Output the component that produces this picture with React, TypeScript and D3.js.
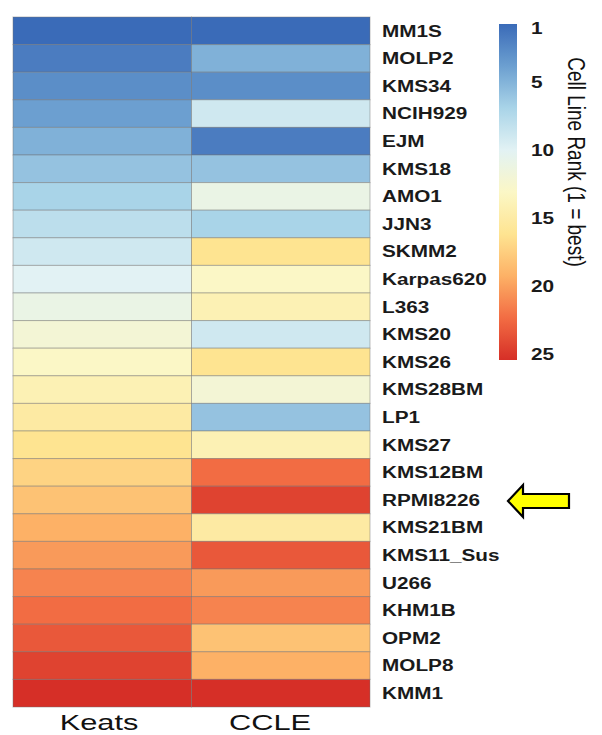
import React from "react";
import * as d3 from "d3";

const cellLines = [
  "MM1S", "MOLP2", "KMS34", "NCIH929", "EJM", "KMS18", "AMO1", "JJN3",
  "SKMM2", "Karpas620", "L363", "KMS20", "KMS26", "KMS28BM", "LP1", "KMS27",
  "KMS12BM", "RPMI8226", "KMS21BM", "KMS11_Sus", "U266", "KHM1B", "OPM2",
  "MOLP8", "KMM1",
];
const keatsRank = [1, 2, 3, 4, 5, 6, 7, 8, 9, 10, 11, 12, 13, 14, 15, 16, 17, 18, 19, 20, 21, 22, 23, 24, 25];
const ccleRank = [1, 5, 3, 9, 2, 6, 11, 7, 16, 13, 14, 9, 16, 12, 6, 14, 22, 24, 15, 23, 20, 21, 18, 19, 25];
const columns = ["Keats", "CCLE"];
const legendTicks = [1, 5, 10, 15, 20, 25];
const paletteStops = ["#3a6bb8", "#6c9fd0", "#a9d4e8", "#e2f2f4", "#fbf7c6", "#fee491", "#fdb166", "#f26c43", "#d62f27"];

const width = 602, height = 735;
const hm = { left: 13, right: 370, top: 17, bottom: 707 };
const bar = { x: 499, w: 18, top: 24, bottom: 360 };

export default function App() {
  const color = d3.scaleLinear<string>()
    .domain(d3.range(paletteStops.length).map(i => 1 + (i * 24) / (paletteStops.length - 1)))
    .range(paletteStops)
    .interpolate(d3.interpolateRgb);

  const x = d3.scaleBand().domain(columns).range([hm.left, hm.right]);
  const y = d3.scaleBand().domain(cellLines).range([hm.top, hm.bottom]);
  const legendY = d3.scaleLinear().domain([1, 25]).range([bar.top + 4, bar.bottom - 6]);

  const series = [keatsRank, ccleRank];
  const gradStops = d3.range(0, 25);

  // yellow marker arrow beside RPMI8226
  const ay = 501;
  const arrowPts = [[508, ay], [523, ay - 16], [523, ay - 7], [569, ay - 7], [569, ay + 7], [523, ay + 7], [523, ay + 16]];

  return (
    <svg width={width} height={height} style={{ position: "absolute", left: 0, top: 0, background: "#fff" }}
      fontFamily="'Liberation Sans', Arial, sans-serif">
      <defs>
        <linearGradient id="rankGrad" x1="0" y1="0" x2="0" y2="1">
          {gradStops.map(i => (
            <stop key={i} offset={`${(i / 24) * 100}%`} stopColor={color(1 + i)} />
          ))}
        </linearGradient>
      </defs>

      {series.map((vals, ci) =>
        cellLines.map((name, ri) => (
          <rect key={columns[ci] + name}
            x={x(columns[ci])!} y={y(name)!}
            width={x.bandwidth()} height={y.bandwidth()}
            fill={color(vals[ri])}
            stroke="rgba(110,110,110,0.45)" strokeWidth={1} />
        ))
      )}

      {cellLines.map(name => (
        <text key={name} transform={`translate(382,${y(name)! + y.bandwidth() / 2}) scale(1.22,1)`}
          dominantBaseline="central" fontSize={17} fontWeight="bold" fill="#1a1a1a">{name}</text>
      ))}

      {columns.map(c => (
        <text key={c} transform={`translate(${c === "Keats" ? 99 : 270},730) scale(1.4,1)`}
          textAnchor="middle" fontSize={22} fill="#111">{c}</text>
      ))}

      <rect x={bar.x} y={bar.top} width={bar.w} height={bar.bottom - bar.top} fill="url(#rankGrad)" />
      {legendTicks.map(t => (
        <text key={t} transform={`translate(531,${legendY(t)}) scale(1.3,1)`}
          dominantBaseline="central" fontSize={16} fontWeight="bold" fill="#1a1a1a">{t}</text>
      ))}
      <text transform="translate(576,162) rotate(90) scale(1,1.25)" textAnchor="middle"
        dominantBaseline="central" fontSize={19} fill="#111">Cell Line Rank (1 = best)</text>

      <polygon points={arrowPts.map(p => p.join(",")).join(" ")}
        fill="#ffff00" stroke="#000" strokeWidth={2.2} strokeLinejoin="miter" />
    </svg>
  );
}
